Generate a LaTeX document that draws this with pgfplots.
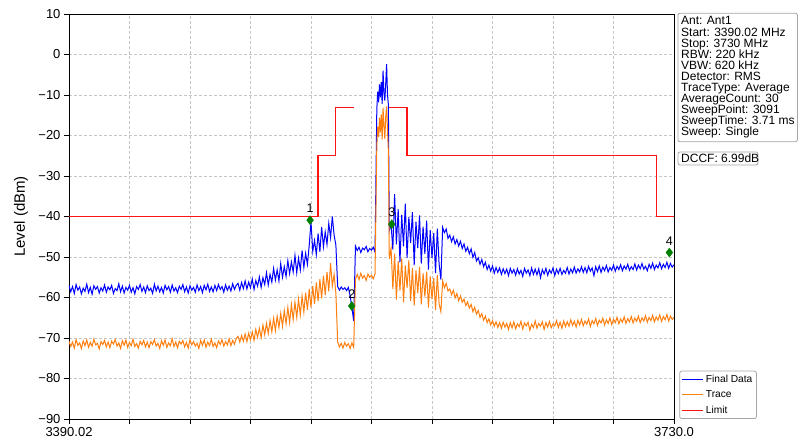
\documentclass[border=0pt]{standalone}
\usepackage{fontspec}
\setmainfont{Liberation Sans}
\usepackage{pgfplots}
\usepackage{pgfplotstable}
\pgfplotsset{compat=1.18}
\definecolor{mplblue}{RGB}{0,0,255}
\definecolor{mplorange}{RGB}{255,127,14}
\definecolor{mplred}{RGB}{255,20,20}
\definecolor{mplgreen}{RGB}{0,128,0}

\pgfplotstableread{
f b o
3390 -57.0 -70.8
3391 -58.6 -72.1
3392 -57.3 -71.0
3393 -59.0 -72.5
3394 -56.8 -70.4
3395 -58.2 -71.8
3396 -57.4 -71.2
3397 -59.1 -72.6
3398 -57.7 -70.7
3399 -58.5 -71.9
3400 -56.7 -70.5
3401 -58.8 -72.3
3402 -57.5 -71.1
3403 -59.2 -72.0
3404 -57.1 -70.3
3405 -58.0 -71.7
3406 -57.3 -71.3
3407 -58.9 -72.7
3408 -57.6 -70.9
3409 -58.4 -71.6
3410 -56.9 -70.6
3411 -58.7 -72.2
3412 -57.4 -71.0
3413 -58.1 -72.4
3414 -57.0 -70.8
3415 -59.0 -71.5
3416 -57.8 -70.4
3417 -58.3 -72.0
3418 -56.6 -71.2
3419 -58.6 -72.6
3420 -57.2 -70.7
3421 -58.9 -71.8
3422 -57.5 -70.5
3423 -58.2 -72.3
3424 -57.0 -71.1
3425 -58.7 -71.9
3426 -57.6 -70.3
3427 -59.1 -72.1
3428 -57.3 -71.4
3429 -58.0 -72.5
3430 -56.8 -70.8
3431 -58.5 -71.7
3432 -57.4 -70.6
3433 -58.8 -72.2
3434 -57.1 -71.0
3435 -58.3 -72.4
3436 -57.7 -70.9
3437 -59.0 -71.6
3438 -56.7 -70.4
3439 -58.4 -72.0
3440 -57.2 -71.3
3441 -58.6 -72.6
3442 -57.5 -70.7
3443 -58.9 -71.8
3444 -57.0 -70.5
3445 -58.1 -72.3
3446 -57.3 -71.2
3447 -58.7 -71.9
3448 -56.9 -70.2
3449 -58.4 -72.1
3450 -57.6 -71.0
3451 -58.8 -72.4
3452 -57.2 -70.8
3453 -58.0 -71.5
3454 -56.8 -70.6
3455 -58.6 -72.2
3456 -57.4 -71.1
3457 -58.9 -72.5
3458 -57.1 -70.4
3459 -58.2 -71.7
3460 -57.5 -70.9
3461 -58.7 -72.0
3462 -56.9 -71.3
3463 -58.3 -72.6
3464 -57.3 -70.6
3465 -58.8 -71.8
3466 -57.0 -70.5
3467 -58.1 -72.3
3468 -56.7 -71.0
3469 -58.5 -71.9
3470 -57.4 -70.3
3471 -58.6 -72.1
3472 -57.0 -71.2
3473 -58.3 -72.4
3474 -56.8 -70.7
3475 -58.0 -71.6
3476 -57.3 -70.4
3477 -58.7 -72.0
3478 -56.9 -70.9
3479 -58.2 -71.7
3480 -57.2 -70.2
3481 -58.4 -71.9
3482 -56.6 -70.6
3483 -58.0 -71.5
3484 -57.0 -70.1
3485 -56.5 -69.6
3486 -58.2 -71.0
3487 -56.3 -69.4
3488 -57.8 -70.8
3489 -55.9 -69.0
3490 -57.9 -70.9
3491 -56.2 -68.8
3492 -57.6 -70.4
3493 -55.4 -68.5
3494 -58.0 -70.6
3495 -55.8 -67.9
3496 -57.2 -69.8
3497 -54.9 -67.6
3498 -57.5 -69.9
3499 -55.1 -66.8
3500 -56.8 -69.2
3501 -53.9 -66.4
3502 -56.9 -68.9
3503 -54.3 -65.7
3504 -56.2 -68.5
3505 -52.8 -65.1
3506 -55.7 -68.2
3507 -53.2 -64.6
3508 -55.9 -67.4
3509 -51.6 -63.9
3510 -55.0 -67.1
3511 -52.4 -63.2
3512 -54.8 -66.5
3513 -50.9 -62.5
3514 -54.1 -66.2
3515 -51.2 -61.7
3516 -53.7 -65.4
3517 -49.6 -61.2
3518 -53.9 -64.9
3519 -50.3 -60.4
3520 -53.2 -64.3
3521 -48.4 -59.6
3522 -52.6 -63.6
3523 -49.1 -58.8
3524 -51.8 -63.1
3525 -47.2 -57.9
3526 -41.3 -62.4
3527 -48.6 -57.2
3528 -45.9 -61.6
3529 -49.4 -56.3
3530 -44.2 -60.9
3531 -48.7 -55.5
3532 -42.6 -60.2
3533 -47.5 -54.6
3534 -43.8 -59.4
3535 -46.9 -53.7
3536 -41.7 -58.5
3537 -45.2 -51.5
3538 -40.0 -57.2
3539 -44.6 -54.3
3540 -47.1 -59.0
3541 -57.3 -71.0
3542 -58.2 -72.2
3543 -57.4 -71.3
3544 -58.0 -72.5
3545 -57.6 -71.1
3546 -58.3 -72.0
3547 -57.5 -71.4
3548 -59.6 -72.6
3549 -62.4 -71.2
3550 -65.8 -72.3
3551 -47.3 -55.5
3552 -48.4 -54.3
3553 -47.6 -55.6
3554 -48.9 -54.0
3555 -47.8 -55.2
3556 -48.2 -54.6
3557 -47.4 -55.8
3558 -48.7 -54.2
3559 -47.9 -55.0
3560 -48.3 -54.5
3561 -47.6 -55.4
3562 -48.8 -54.1
3563 -13.5 -22.5
3563.5 -9.2 -17.8
3564 -11.8 -20.4
3564.5 -7.4 -15.6
3565 -10.6 -19.2
3565.5 -6.8 -14.8
3566 -12.2 -21.0
3566.5 -4.0 -13.2
3567 -9.5 -17.5
3567.5 -11.4 -20.8
3568 -7.2 -15.3
3568.5 -2.4 -12.8
3569 -9.8 -18.6
3569.5 -12.5 -24.0
3570 -43.5 -50.5
3571 -41.8 -47.8
3572 -48.2 -57.9
3573 -34.5 -49.2
3574 -46.9 -60.5
3575 -38.2 -51.0
3576 -51.3 -58.3
3577 -39.6 -50.4
3578 -47.4 -61.2
3579 -36.8 -52.1
3580 -50.2 -57.6
3581 -40.1 -50.8
3582 -46.5 -60.9
3583 -38.9 -52.7
3584 -52.0 -62.0
3585 -41.3 -53.3
3586 -47.8 -58.9
3587 -39.7 -52.4
3588 -51.6 -61.7
3589 -42.5 -54.0
3590 -49.3 -59.8
3591 -41.0 -53.6
3592 -53.1 -62.5
3593 -43.4 -54.8
3594 -50.2 -60.4
3595 -44.1 -55.2
3596 -54.0 -63.1
3597 -43.0 -54.5
3598 -51.7 -61.6
3599 -55.6 -63.5
3600 -42.7 -55.9
3601 -44.0 -57.6
3602 -43.1 -56.5
3603 -45.4 -58.4
3604 -44.6 -57.9
3605 -46.2 -59.3
3606 -45.0 -58.2
3607 -46.8 -60.1
3608 -45.7 -59.0
3609 -47.3 -60.8
3610 -46.1 -59.6
3611 -47.9 -61.2
3612 -46.8 -60.4
3613 -48.6 -62.0
3614 -47.6 -61.1
3615 -49.2 -62.6
3616 -48.0 -61.7
3617 -50.1 -63.5
3618 -48.9 -62.4
3619 -51.0 -64.1
3620 -50.2 -63.2
3621 -51.8 -64.9
3622 -50.6 -64.0
3623 -52.4 -65.6
3624 -51.3 -64.6
3625 -53.1 -66.2
3626 -52.0 -65.3
3627 -53.5 -66.8
3628 -52.2 -65.7
3629 -54.0 -67.1
3630 -52.6 -66.0
3631 -53.8 -67.4
3632 -52.7 -66.2
3633 -54.3 -67.6
3634 -52.9 -66.1
3635 -54.1 -67.3
3636 -53.0 -66.4
3637 -54.6 -67.9
3638 -52.8 -66.2
3639 -54.0 -67.5
3640 -53.1 -66.0
3641 -54.5 -67.7
3642 -52.9 -66.5
3643 -54.2 -67.2
3644 -53.3 -65.9
3645 -54.8 -67.8
3646 -52.8 -66.3
3647 -54.0 -67.0
3648 -53.2 -66.1
3649 -54.6 -68.1
3650 -52.7 -66.6
3651 -54.3 -67.4
3652 -53.0 -65.8
3653 -54.4 -67.6
3654 -52.9 -66.4
3655 -55.1 -67.1
3656 -53.1 -66.0
3657 -54.2 -67.9
3658 -52.8 -66.2
3659 -54.5 -67.3
3660 -53.2 -65.9
3661 -54.0 -67.5
3662 -52.7 -66.5
3663 -54.6 -67.0
3664 -53.0 -65.7
3665 -54.1 -67.4
3666 -52.8 -66.1
3667 -54.3 -67.6
3668 -53.3 -65.8
3669 -54.0 -67.2
3670 -52.6 -66.0
3671 -54.2 -67.1
3672 -53.0 -65.5
3673 -53.9 -66.9
3674 -52.5 -65.9
3675 -54.0 -67.3
3676 -52.9 -65.6
3677 -53.7 -66.8
3678 -52.4 -65.4
3679 -53.8 -67.0
3680 -52.6 -65.8
3681 -53.9 -66.6
3682 -52.3 -65.3
3683 -53.5 -67.2
3684 -52.7 -65.7
3685 -54.6 -66.5
3686 -52.4 -65.2
3687 -53.6 -66.9
3688 -52.2 -65.6
3689 -53.8 -66.3
3690 -52.5 -65.1
3691 -53.4 -66.8
3692 -52.1 -65.5
3693 -53.7 -66.4
3694 -52.6 -65.0
3695 -53.3 -66.7
3696 -52.0 -65.4
3697 -53.5 -66.2
3698 -52.3 -64.9
3699 -53.1 -66.5
3700 -51.9 -65.3
3701 -53.4 -66.1
3702 -52.2 -64.8
3703 -53.0 -66.4
3704 -51.8 -65.2
3705 -53.3 -66.0
3706 -52.4 -64.7
3707 -53.1 -66.3
3708 -51.7 -65.1
3709 -53.2 -65.9
3710 -52.0 -64.6
3711 -52.9 -66.2
3712 -51.6 -65.0
3713 -53.0 -65.8
3714 -52.3 -64.5
3715 -53.4 -66.1
3716 -51.8 -64.9
3717 -52.8 -65.7
3718 -51.5 -64.4
3719 -53.1 -66.0
3720 -52.0 -64.8
3721 -52.7 -65.6
3722 -51.4 -64.3
3723 -52.9 -65.9
3724 -51.8 -64.7
3725 -52.6 -65.5
3726 -51.3 -64.2
3727 -52.8 -65.8
3728 -51.6 -64.6
3729 -52.5 -65.4
3730 -51.9 -64.9
}\spec

\pgfplotstableread{
f y l
3525.5 -40.9 1
3548.9 -62.1 2
3571.4 -41.9 3
3727.4 -48.9 4
}\markers

\begin{document}
\begin{tikzpicture}
\useasboundingbox (-69pt,-28pt) rectangle (729pt,419pt);
\begin{axis}[
  at={(0pt,0pt)}, anchor=south west,
  width=605pt, height=405pt, scale only axis,
  xmin=3390.02, xmax=3730, ymin=-90, ymax=10,
  xtick={3390.02,3424.018,3458.016,3492.014,3526.012,3560.01,3594.008,3628.006,3662.004,3696.002,3730},
  xticklabels={3390.02,,,,,,,,,,3730.0},
  ytick={-90,-80,...,10},
  yticklabels={−90,−80,−70,−60,−50,−40,−30,−20,−10,0,10},
  tick align=outside, xtick pos=bottom, ytick pos=left,
  major tick length=5pt,
  tick style={black, line width=0.8pt},
  grid=major,
  grid style={gray!45, dash pattern=on 3pt off 2pt, line width=0.6pt},
  axis line style={black, line width=0.9pt},
  ticklabel style={font=\fontsize{13}{15}\selectfont},
  /pgf/number format/assume math mode=true,
  ylabel={Level (dBm)},
  ylabel style={font=\fontsize{15}{18}\selectfont, at={(axis description cs:-0.0793,0.5)}, anchor=center},
  legend cell align=left,
  legend style={at={(1.0088,0)}, anchor=south west, draw=gray!70, line width=0.8pt, rounded corners=2pt, fill=white,
    font=\fontsize{10.2}{12}\selectfont, inner xsep=2pt, inner ysep=2pt, row sep=2.6pt,
    /tikz/every even column/.append style={column sep=4pt}},
  legend image code/.code={\draw[#1, line width=1.2pt] (0pt,0pt) -- (21pt,0pt);},
]
\addplot[mplblue, line width=1pt] table[x=f, y=b] {\spec};
\addlegendentry{Final Data}
\addplot[mplorange, line width=1pt] table[x=f, y=o] {\spec};
\addlegendentry{Trace}
\addplot[mplred, line width=1.2pt] coordinates {(3390.02,-40) (3530,-40) (3530,-25) (3540,-25) (3540,-13) (3550,-13)};
\addlegendentry{Limit}
\addplot[mplred, line width=1.2pt, forget plot] coordinates {(3570,-13) (3580,-13) (3580,-25) (3720,-25) (3720,-40) (3730,-40)};
\addplot[only marks, mark=diamond*, mark size=4.5pt, mplgreen, forget plot,
  nodes near coords, point meta=explicit symbolic,
  every node near coord/.append style={anchor=south, inner sep=0pt, yshift=7pt, text=black, font=\fontsize{12.5}{14}\selectfont}]
  table[x=f, y=y, meta=l] {\markers};
\end{axis}
\draw[gray!70, line width=0.8pt, rounded corners=2pt, fill=white] (608.9pt,277.3pt) rectangle (728.4pt,405.7pt);
\foreach \t [count=\i from 0] in {Ant: Ant1, Start: 3390.02 MHz, Stop: 3730 MHz, RBW: 220 kHz, VBW: 620 kHz, Detector: RMS, TraceType: Average, AverageCount: 30, SweepPoint: 3091, SweepTime: 3.71 ms, Sweep: Single}
  \node[anchor=base west, inner sep=0pt, font=\fontsize{12}{13}\selectfont] at (612pt,{(394-\i*11.1)*1pt}) {\t};
\draw[gray!70, line width=0.8pt, rounded corners=2pt, fill=white] (609pt,254pt) rectangle (689pt,267pt);
\node[anchor=base west, inner sep=0pt, font=\fontsize{12}{13}\selectfont] at (612pt,256.4pt) {DCCF: 6.99dB};
\end{tikzpicture}
\end{document}
